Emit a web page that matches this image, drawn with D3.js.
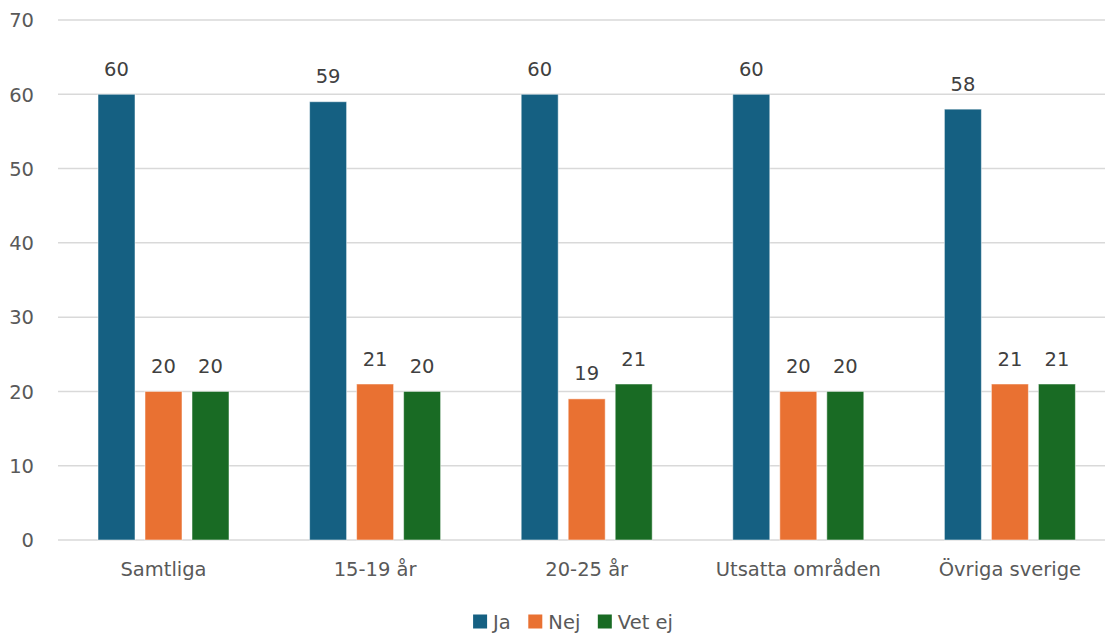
<!DOCTYPE html>
<html><head><meta charset="utf-8">
<script src="https://cdn.jsdelivr.net/npm/d3@7"></script>
<style>
html,body{margin:0;padding:0;background:#fff;}
svg{display:block;font-family:"DejaVu Sans",sans-serif;}
</style></head>
<body><svg id="c" width="1105" height="634"></svg>
<script>
const categories = ["Samtliga","15-19 år","20-25 år","Utsatta områden","Övriga sverige"];
const seriesNames = ["Ja","Nej","Vet ej"];
const ja = [60,59,60,60,58];
const nej = [20,21,19,20,21];
const vetej = [20,20,21,20,21];
const yTicks = [0,10,20,30,40,50,60,70];
const colors = ["#156082","#E97132","#196B24"];

const svg = d3.select("#c");
const fs = 19.5;
const x0 = d3.scaleBand().domain(categories).range([57.7,1115.7]).paddingInner(0);
const groupW = 131;
const x1 = d3.scaleBand().domain(seriesNames)
  .range([(x0.bandwidth()-groupW)/2,(x0.bandwidth()+groupW)/2]).paddingInner(0.213);
const y = d3.scaleLinear().domain([0,70]).range([540,20]);

// grid
svg.append("g").selectAll("line").data(yTicks).join("line")
  .attr("x1",58).attr("x2",1105)
  .attr("y1",d=>y(d)).attr("y2",d=>y(d))
  .attr("stroke","#d9d9d9").attr("stroke-width",1.5);

// y axis labels
const yAxis = d3.axisLeft(y).tickValues(yTicks).tickSize(0).tickPadding(0);
const ya = svg.append("g").attr("transform","translate(34,0)").call(yAxis);
ya.select(".domain").remove();
ya.selectAll("text").attr("font-size",fs).attr("fill","#595959")
  .attr("font-family","DejaVu Sans").attr("dy","0.35em");

// x axis labels
const xAxis = d3.axisBottom(x0).tickSize(0).tickPadding(0);
const xa = svg.append("g").attr("transform","translate(0,576)").call(xAxis);
xa.select(".domain").remove();
xa.selectAll("text").attr("font-size",fs).attr("fill","#595959")
  .attr("font-family","DejaVu Sans").attr("dy","0");

const data = [ja,nej,vetej];
const groups = svg.append("g").selectAll("g").data(categories).join("g")
  .attr("transform",d=>`translate(${x0(d)},0)`);
seriesNames.forEach((s,si)=>{
  groups.append("rect")
    .attr("x",x1(s)).attr("width",x1.bandwidth())
    .attr("y",(d,i)=>y(data[si][i]))
    .attr("height",(d,i)=>y(0)-y(data[si][i]))
    .attr("fill",colors[si])
    .attr("stroke","#ffffff").attr("stroke-opacity",0.5).attr("stroke-width",1);
  groups.append("text")
    .attr("x",x1(s)+x1.bandwidth()/2)
    .attr("y",(d,i)=>y(data[si][i])-18.5)
    .attr("text-anchor","middle")
    .attr("font-size",fs).attr("fill","#404040")
    .text((d,i)=>data[si][i]);
});

// legend
const leg = svg.append("g");
let cx = 0;
seriesNames.forEach((s,i)=>{
  const g = leg.append("g");
  g.append("rect").attr("x",0).attr("y",614.5).attr("width",14).attr("height",14).attr("fill",colors[i]);
  const t = g.append("text").attr("x",20).attr("y",628.5).attr("font-size",fs).attr("fill","#595959").text(s);
  const w = t.node().getComputedTextLength();
  g.attr("transform",`translate(${cx},0)`);
  cx += 20 + w + 17.5;
});
const total = cx - 17.5;
leg.attr("transform",`translate(${573 - total/2},0)`);
</script></body></html>
